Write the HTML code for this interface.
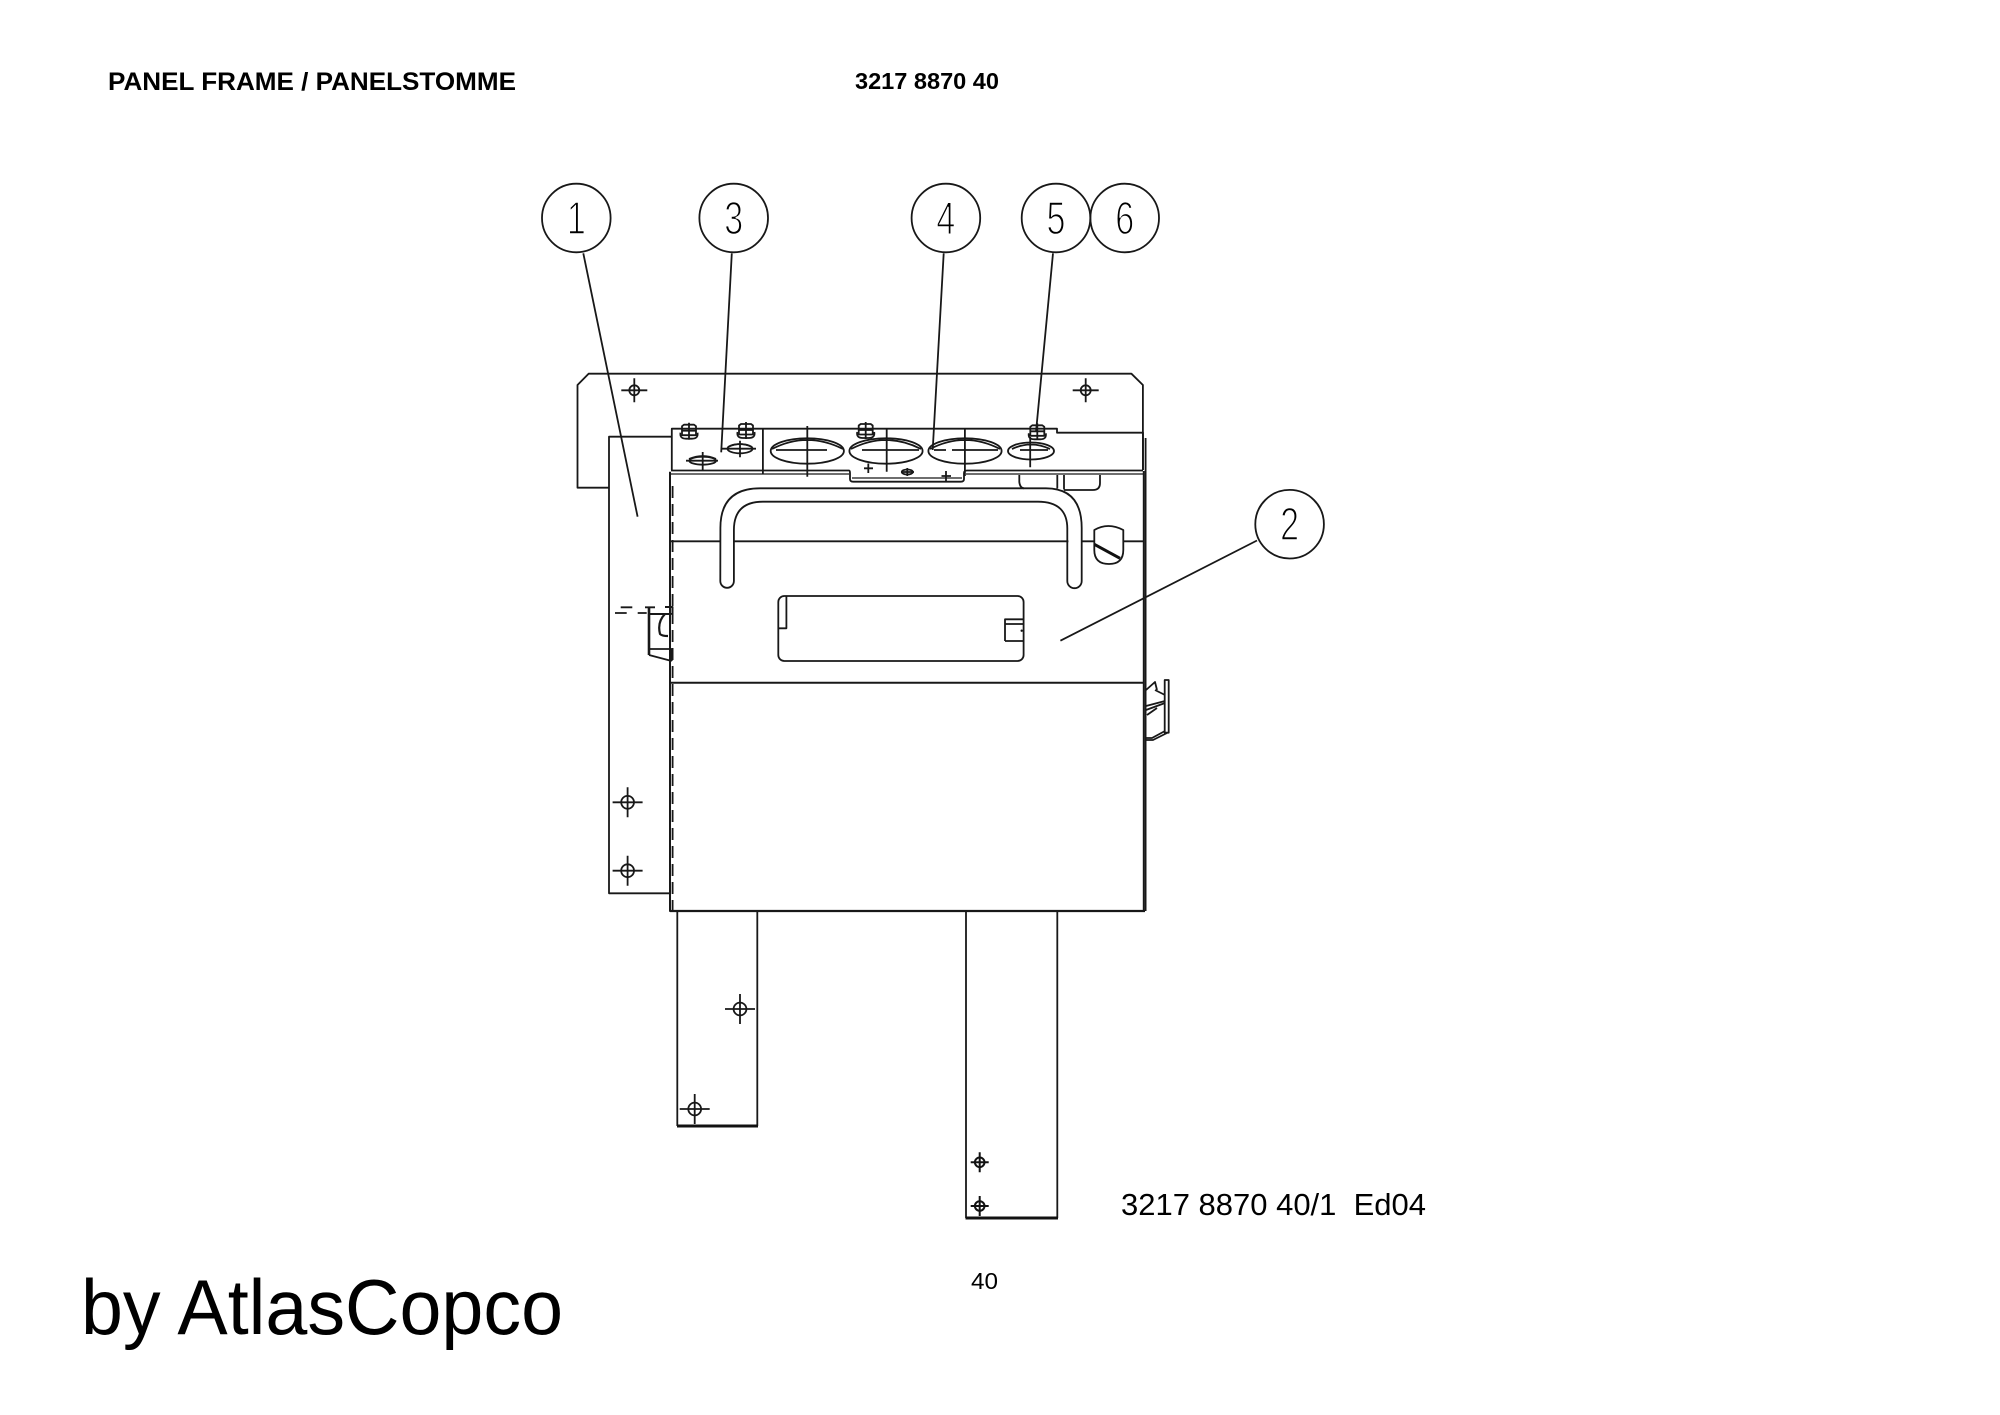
<!DOCTYPE html>
<html>
<head>
<meta charset="utf-8">
<style>
html,body{margin:0;padding:0;background:#fff}
svg{display:block}
text{font-family:"Liberation Sans",sans-serif;fill:#000}
.l{fill:none;stroke:#181818;stroke-width:1.8;stroke-linejoin:round}
.n{font-size:46px;stroke:#fff;stroke-width:1.5;text-anchor:middle}
</style>
</head>
<body>
<svg width="2000" height="1415" viewBox="0 0 2000 1415" xmlns="http://www.w3.org/2000/svg">
<defs>
<g id="x15" class="l"><circle r="6.4"/><path d="M-15 0H15M0-15V15"/></g>
<g id="x12" class="l"><circle r="5"/><path d="M-13 0H13M0-12V12"/></g>
<g id="x9" style="fill:none;stroke:#111;stroke-width:2"><circle r="4.8"/><path d="M-9 0H9M0-10V10"/></g>
<g id="b" class="l"><path d="M-7-5.5L-5-7H5L7-5.5V3.5H-7Z"/><path d="M-8.5 1Q-9.5 7 -3 7H3Q9.5 7 8.5 1M-7-1H7M0-9V8" /></g>
</defs>
<rect width="2000" height="1415" fill="#fff"/>

<text x="108" y="90" font-size="25" font-weight="bold" textLength="408" lengthAdjust="spacingAndGlyphs">PANEL FRAME / PANELSTOMME</text>
<text x="855" y="89" font-size="23" font-weight="bold" textLength="144" lengthAdjust="spacingAndGlyphs">3217 8870 40</text>
<text x="1121" y="1215" font-size="31" textLength="305" xml:space="preserve" lengthAdjust="spacingAndGlyphs">3217 8870 40/1  Ed04</text>
<text x="971" y="1289" font-size="23" textLength="27" lengthAdjust="spacingAndGlyphs">40</text>
<text x="81" y="1334" font-size="78" textLength="482" lengthAdjust="spacingAndGlyphs">by AtlasCopco</text>

<!-- balloons -->
<g class="l">
<circle cx="576.3" cy="218" r="34.3"/>
<circle cx="733.7" cy="218" r="34.3"/>
<circle cx="945.9" cy="218" r="34.3"/>
<circle cx="1056" cy="218" r="34.3"/>
<circle cx="1124.7" cy="218" r="34.3"/>
<circle cx="1289.6" cy="524.2" r="34.3"/>
<path d="M583.3 253.3L637.6 516.7M731.8 253.3L721.2 452.3M943.7 253.3L932.7 450M1053 253.3L1036 432M1257 540.5L1060.4 640.7"/>
</g>
<g class="n">
<text transform="translate(576.3 234) scale(.74 1)" x="0" y="0">1</text>
<text transform="translate(733.7 234) scale(.74 1)" x="0" y="0">3</text>
<text transform="translate(945.9 234) scale(.74 1)" x="0" y="0">4</text>
<text transform="translate(1056 234) scale(.74 1)" x="0" y="0">5</text>
<text transform="translate(1124.7 234) scale(.74 1)" x="0" y="0">6</text>
<text transform="translate(1289.6 540) scale(.74 1)" x="0" y="0">2</text>
</g>

<!-- back plate -->
<g class="l">
<path d="M609 487.7H577.5V385L588.6 373.7H1131.4L1142.9 385V470"/>
<path d="M671.8 436.7H609V893.3H670"/>
<!-- bracket plate -->
<path d="M671.8 470V428.7H1057V432.7H1143V470"/>
<path d="M671 470.5H849Q850 470.5 850 473V479Q850 481.7 853 481.7H961Q964 481.7 964 479V473Q964 470.5 967 470.5H1143"/>
<path d="M852 478H962M671 474H849M966 474H1143" stroke-width="1.2"/>
<path d="M762.9 428.7V474"/>
<!-- panel -->
<path d="M670 471.7V911H1143.8V471M670.4 682.7H1143.5" stroke-width="2"/>
<path d="M672.6 486V911" stroke-dasharray="12 6"/>
<path d="M1145.6 438V911" stroke-width="1.8"/>
<path d="M670 911H1145" stroke-width="2.2"/>
<path d="M671 541.3H720.4M733.9 541.3H1068.4M1082 541.3H1094.6M1123 541.3H1143"/>
<!-- handle -->
<path d="M720.4 528Q720.4 488.3 760 488.3H1046Q1081.7 488.3 1081.7 528V581a7.2 7.2 0 0 1-14.4 0V530Q1068 501.7 1038 501.7H763Q733.9 501.7 733.9 530V581a6.8 6.8 0 0 1-13.6 0Z"/>
<!-- window -->
<rect x="778.3" y="596" width="245.3" height="65" rx="6"/>
<path d="M786.4 596V628.3H779M1005 641V619.3H1023M1005 624H1023M1005 641H1023"/>
<!-- tab under plate -->
<path d="M1019.3 475V482Q1020 488 1024 488.3M1057.3 475V488.5M1064 475V489.5M1100 475V483Q1100 490 1093 490H1064"/>
<!-- shield -->
<path d="M1094.3 530Q1108 522 1123.3 530V550Q1123.3 564 1109 564Q1094.3 564 1094.3 550Z"/>
<!-- tabs -->
<path d="M677.3 911V1126M757.3 911V1126M966 911V1218M1057.3 911V1218"/>
</g>
<path d="M1094.3 544.3L1120 558.3" stroke="#111" stroke-width="3"/>
<path d="M677 1126H758M965.5 1218H1058" stroke="#111" stroke-width="3"/>
<circle cx="1021.7" cy="630.7" r="1.2" fill="#111"/>

<!-- ovals -->
<g class="l">
<ellipse cx="807.3" cy="451" rx="36.6" ry="12.7"/><path d="M772 449Q807 431 843 449M776 450H827M807.3 426V476.7"/>
<ellipse cx="886" cy="451" rx="36.6" ry="12.7"/><path d="M851 449Q886 431 921 449M862 450H919M886.7 428V471.7"/>
<ellipse cx="965" cy="451" rx="36.6" ry="12.7"/><path d="M930 449Q965 431 1000 449M934 450H946M952 450H998M964.9 428.7V476"/>
<ellipse cx="1031" cy="451" rx="23" ry="8.5"/><path d="M1012 449Q1031 440 1050 449M1020 450H1048M1030.2 437V467.3"/>
<ellipse cx="702.7" cy="460.7" rx="13.3" ry="4"/><path d="M689 459Q703 453 716 459M686 460.7H718M702.7 452V470"/>
<ellipse cx="740" cy="448.7" rx="12.5" ry="4.6"/><path d="M728 447Q740 441 752 447M722 448.7H756M740 440.7V457.3"/>
<path d="M868.3 463.5V473M864 468.3H873M946 471V481M941.5 476H951"/>
<ellipse cx="907.3" cy="472" rx="5.5" ry="2.5"/><path d="M901 472H914M907.3 468V476"/>
</g>
<use href="#b" x="689" y="431.7"/>
<use href="#b" x="746" y="431"/>
<use href="#b" x="865.7" y="431"/>
<use href="#b" x="1037.3" y="432.3"/>

<!-- crosshairs -->
<use href="#x12" x="634.3" y="390.3"/>
<use href="#x12" x="1085.7" y="390.3"/>
<use href="#x15" x="627.6" y="802.3"/>
<use href="#x15" x="627.6" y="870.7"/>
<use href="#x15" x="740" y="1009"/>
<use href="#x15" x="694.7" y="1109"/>
<use href="#x9" x="979.7" y="1162.3"/>
<use href="#x9" x="979.7" y="1206"/>

<!-- left latch -->
<g class="l">
<path d="M620.7 607.3H632.3M645 607.3H655M615 613H626.7M637.7 613H646.7"/>
<path d="M649 607V655" stroke-width="2.6"/>
<path d="M649 614H671.7M665 607H672.5V614" stroke-width="2"/>
<path d="M665 614Q657 622 660 634Q662 636 668 636" stroke-width="2.2"/>
<path d="M649 649H672M649 655L671.7 661M671.7 649V661"/>
</g>
<!-- right latch -->
<g class="l" stroke-width="1.3">
<rect x="1164.7" y="680" width="4" height="52.7"/>
<path d="M1146 690L1155 682L1157 690M1155 690L1165 695M1146 706L1165 701M1146 710L1165 703M1147 715L1157 708M1146 740H1153L1167 733M1146 738H1152L1165 731"/>
</g>
</svg>
</body>
</html>
